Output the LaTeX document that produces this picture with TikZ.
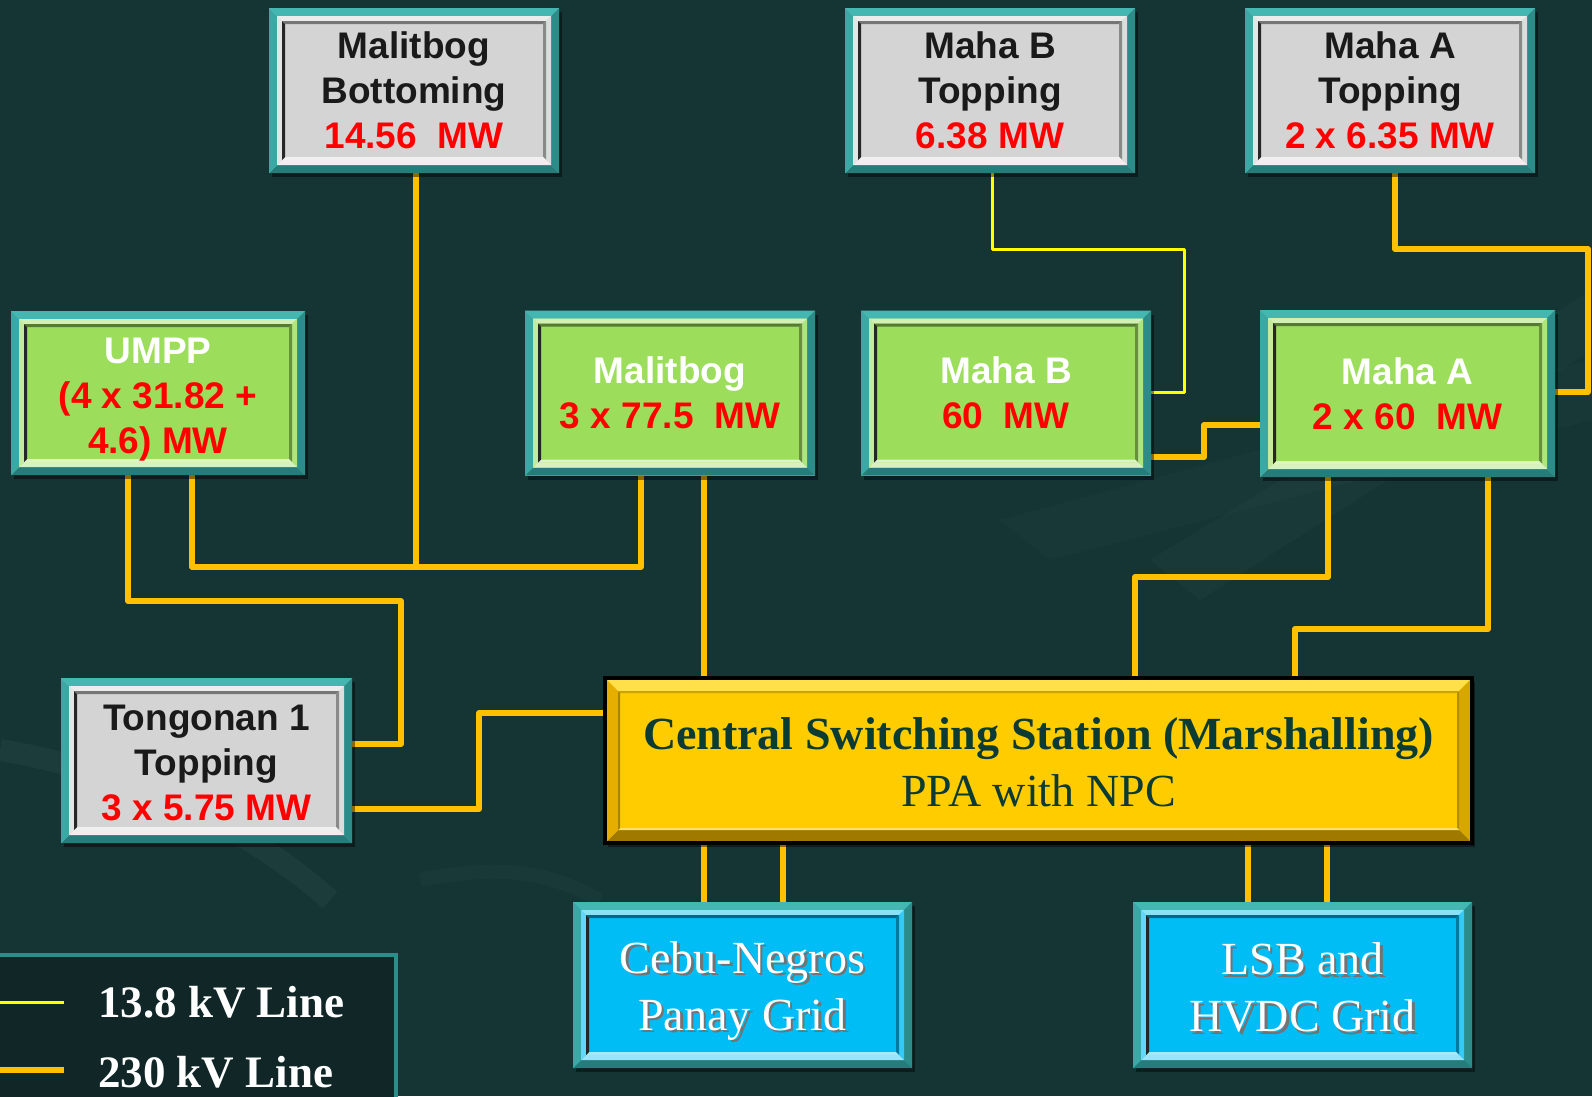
\documentclass[tikz,border=0pt]{standalone}
\usepackage{fontspec}
\setmainfont{Liberation Serif}
\newfontfamily\boxfont{Liberation Sans}
\usetikzlibrary{calc,shadows}
\definecolor{bgteal}{HTML}{153535}
\definecolor{tealT}{HTML}{45B7B2}
\definecolor{tealR}{HTML}{2B8C89}
\definecolor{tealB}{HTML}{257C7A}
\definecolor{tealL}{HTML}{3AA8A4}
\definecolor{boxgray}{HTML}{D4D4D4}
\definecolor{boxgreen}{HTML}{9CDE5C}
\definecolor{gridblue}{HTML}{00BDF5}
\definecolor{cssyellow}{HTML}{FFCC00}
\definecolor{cssT}{HTML}{FFE04A}
\definecolor{cssR}{HTML}{D9A600}
\definecolor{cssB}{HTML}{A07A00}
\definecolor{cssL}{HTML}{E6AE00}
\definecolor{csstext}{HTML}{0B3B33}
\definecolor{darktxt}{HTML}{1A1A1A}
\definecolor{mwred}{HTML}{FF0000}
\definecolor{line230}{HTML}{FFC000}
\definecolor{line13}{HTML}{FFFF00}
\definecolor{legteal}{HTML}{2A8E8A}
\definecolor{legfill}{HTML}{112626}
\pgfdeclarelayer{bg}
\pgfdeclarelayer{lines}
\pgfsetlayers{bg,lines,main}
\newcommand\bevelring[6]{%
  \path ([shift={(#1pt,-#1pt)}]ppnw) coordinate (bra) ([shift={(-#1pt,#1pt)}]ppse) coordinate (brc)
        ([shift={(#2pt,-#2pt)}]ppnw) coordinate (brb) ([shift={(-#2pt,#2pt)}]ppse) coordinate (brd);
  \fill[#3] (bra) -- (bra-|brc) -- (brb-|brd) -- (brb) -- cycle;
  \fill[#4] (bra-|brc) -- (brc) -- (brd) -- (brb-|brd) -- cycle;
  \fill[#5] (brc) -- (bra|-brc) -- (brb|-brd) -- (brd) -- cycle;
  \fill[#6] (bra|-brc) -- (bra) -- (brb) -- (brb|-brd) -- cycle;
}
\newcommand\mwt[1]{\textcolor{mwred}{#1}}
\newcommand\shtext[1]{\leavevmode\rlap{\kern2.5pt\raisebox{-2.5pt}{\textcolor{black!55}{#1}}}\textcolor{white}{#1}}
\tikzset{
  plantbox/.style={rectangle, inner sep=0pt, minimum width=290pt, minimum height=165pt,
    fill=#1, align=center, font=\boxfont\bfseries\fontsize{37}{45}\selectfont,
    drop shadow={shadow xshift=3pt, shadow yshift=-4pt, opacity=0.45, fill=black},
    path picture={\path (path picture bounding box.north west) coordinate (ppnw)
                        (path picture bounding box.south east) coordinate (ppse);
      \bevelring{0}{8}{tealT}{tealR}{tealB}{tealL}%
      \bevelring{8}{13}{#1!45!white}{#1!80!white}{#1!40!white}{#1!60!white}%
      \bevelring{13}{16}{#1!55!black}{#1!65!black}{#1!35!white}{black!85}}},
  cssbox/.style={rectangle, inner sep=0pt, minimum width=867pt, minimum height=165pt,
    fill=cssyellow, draw=black, line width=4.5pt, align=center, text=csstext,
    font=\fontsize{46}{57}\selectfont,
    drop shadow={shadow xshift=3pt, shadow yshift=-4pt, opacity=0.45, fill=black},
    path picture={\path (path picture bounding box.north west) coordinate (ppnw)
                        (path picture bounding box.south east) coordinate (ppse);
      \bevelring{2}{13}{cssT}{cssR}{cssB}{cssL}%
      \bevelring{13}{15}{cssyellow!80!black}{cssyellow!70!black}{cssyellow!60!white}{cssyellow!65!black}}},
  l230/.style={draw=line230, line width=6pt, line join=round},
  l13/.style={draw=line13, line width=3pt, line join=round},
  legtext/.style={anchor=west, text=white, inner sep=0pt, font=\bfseries\fontsize{45}{54}\selectfont},
}
\begin{document}
\begin{tikzpicture}[x=1pt,y=-1pt]
\useasboundingbox (0,0) rectangle (1592,1096);
\begin{pgfonlayer}{bg}
  \fill[bgteal] (0,0) rectangle (1592,1096);
  \fill[white,opacity=0.018] (1150,560) -- (1592,290) -- (1592,350) -- (1200,600) -- cycle;
  \fill[white,opacity=0.015] (1000,520) -- (1592,360) -- (1592,420) -- (1050,560) -- cycle;
  \draw[white,opacity=0.03,line width=22pt] (0,750) .. controls (120,770) and (240,820) .. (330,900);
  \draw[white,opacity=0.02,line width=14pt] (420,880) .. controls (520,860) and (560,880) .. (600,900);
\end{pgfonlayer}

% top row (gray)
\node[plantbox=boxgray] (mbb) at (414,90.5)
  {\textcolor{darktxt}{Malitbog}\\\textcolor{darktxt}{Bottoming}\\\mwt{14.56\ \ MW}};
\node[plantbox=boxgray] (mbt) at (990,90.5)
  {\textcolor{darktxt}{Maha B}\\\textcolor{darktxt}{Topping}\\\mwt{6.38 MW}};
\node[plantbox=boxgray] (mat) at (1390,90.5)
  {\textcolor{darktxt}{Maha A}\\\textcolor{darktxt}{Topping}\\\mwt{2 x 6.35 MW}};

% middle row (green)
\node[plantbox=boxgreen, minimum width=294pt, minimum height=164pt] (umpp) at (158,393)
  {\rule{0pt}{39pt}\textcolor{white}{UMPP}\\\mwt{(4 x 31.82 +}\\\mwt{4.6) MW}};
\node[plantbox=boxgreen] (mal) at (670,393)
  {\textcolor{white}{Malitbog}\\\mwt{3 x 77.5\ \ MW}};
\node[plantbox=boxgreen] (mahb) at (1006,393)
  {\textcolor{white}{Maha B}\\\mwt{60\ \ MW}};
\node[plantbox=boxgreen, minimum width=295pt, minimum height=167pt] (maha) at (1407.5,393.5)
  {\textcolor{white}{Maha A}\\\mwt{2 x 60\ \ MW}};

% Tongonan
\node[plantbox=boxgray, minimum width=291pt] (tong) at (206.5,760.5)
  {\rule{0pt}{31pt}\textcolor{darktxt}{Tongonan 1}\\\textcolor{darktxt}{Topping}\\\mwt{3 x 5.75 MW}};

% Central switching station
\node[cssbox] (css) at (1038.5,760.5)
  {\rule{0pt}{36pt}\textbf{Central Switching Station (Marshalling)}\\PPA with NPC};

% grids
\node[plantbox=gridblue, minimum width=339pt, minimum height=166pt,
      font=\fontsize{46}{57}\selectfont] (cebu) at (742.5,985)
  {\rule{0pt}{46pt}\shtext{Cebu-Negros}\\\shtext{Panay Grid}};
\node[plantbox=gridblue, minimum width=339pt, minimum height=166pt,
      font=\fontsize{46}{57}\selectfont] (lsb) at (1302.5,985)
  {\rule{0pt}{40pt}\shtext{LSB and}\\\shtext{HVDC Grid}};

% legend
\node[draw=legteal, line width=3.5pt, fill=legfill, inner sep=0pt, anchor=north west,
      minimum width=406pt, minimum height=170pt] (legend) at (-12,953) {};
\coordinate (la1) at (-5,1002);
\coordinate (lb1) at (64,1002);
\coordinate (la2) at (-5,1070);
\coordinate (lb2) at (64,1070);
\draw[l13] (la1) -- (lb1);
\draw[l230] (la2) -- (lb2);
\node[legtext] (lt1) at (98,1002) {13.8 kV Line};
\node[legtext] (lt2) at (98,1072) {230 kV Line};

% bend points
\coordinate (j1) at (416,567);
\coordinate (c192) at (192,567);
\coordinate (c641) at (641,567);
\coordinate (b1) at (128,601);
\coordinate (b2) at (401,601);
\coordinate (b3) at (401,744);
\coordinate (d1) at (479,809);
\coordinate (d2) at (479,713);
\coordinate (e1) at (704,600);
\coordinate (e2) at (783,870);
\coordinate (f1) at (992,249);
\coordinate (f2) at (1184,249);
\coordinate (f3) at (1184,392);
\coordinate (g1) at (1395,249);
\coordinate (g2) at (1588,249);
\coordinate (g3) at (1588,392);
\coordinate (h1) at (1204,457);
\coordinate (h2) at (1204,425);
\coordinate (i1) at (1328,577);
\coordinate (i2) at (1135,577);
\coordinate (k1) at (1488,629);
\coordinate (k2) at (1295,629);
\coordinate (m1) at (1248,870);
\coordinate (m2) at (1327,870);

\begin{pgfonlayer}{lines}
  \draw[l230] (mbb.south -| j1) -- (j1);
  \draw[l230] (umpp.south -| c192) -- (c192) -- (c641) -- (mal.south -| c641);
  \draw[l230] (umpp.south -| b1) -- (b1) -- (b2) -- (b3) -- (tong.east |- b3);
  \draw[l230] (tong.east |- d1) -- (d1) -- (d2) -- (css.west |- d2);
  \draw[l230] (mal.south -| e1) -- (css.north -| e1);
  \draw[l13]  (mbt.south -| f1) -- (f1) -- (f2) -- (f3) -- (mahb.east |- f3);
  \draw[l230] (mat.south -| g1) -- (g1) -- (g2) -- (g3) -- (maha.east |- g3);
  \draw[l230] (mahb.east |- h1) -- (h1) -- (h2) -- (maha.west |- h2);
  \draw[l230] (maha.south -| i1) -- (i1) -- (i2) -- (css.north -| i2);
  \draw[l230] (maha.south -| k1) -- (k1) -- (k2) -- (css.north -| k2);
  \draw[l230] (css.south -| e1) -- (cebu.north -| e1);
  \draw[l230] (css.south -| e2) -- (cebu.north -| e2);
  \draw[l230] (css.south -| m1) -- (lsb.north -| m1);
  \draw[l230] (css.south -| m2) -- (lsb.north -| m2);
\end{pgfonlayer}
\end{tikzpicture}
\end{document}
